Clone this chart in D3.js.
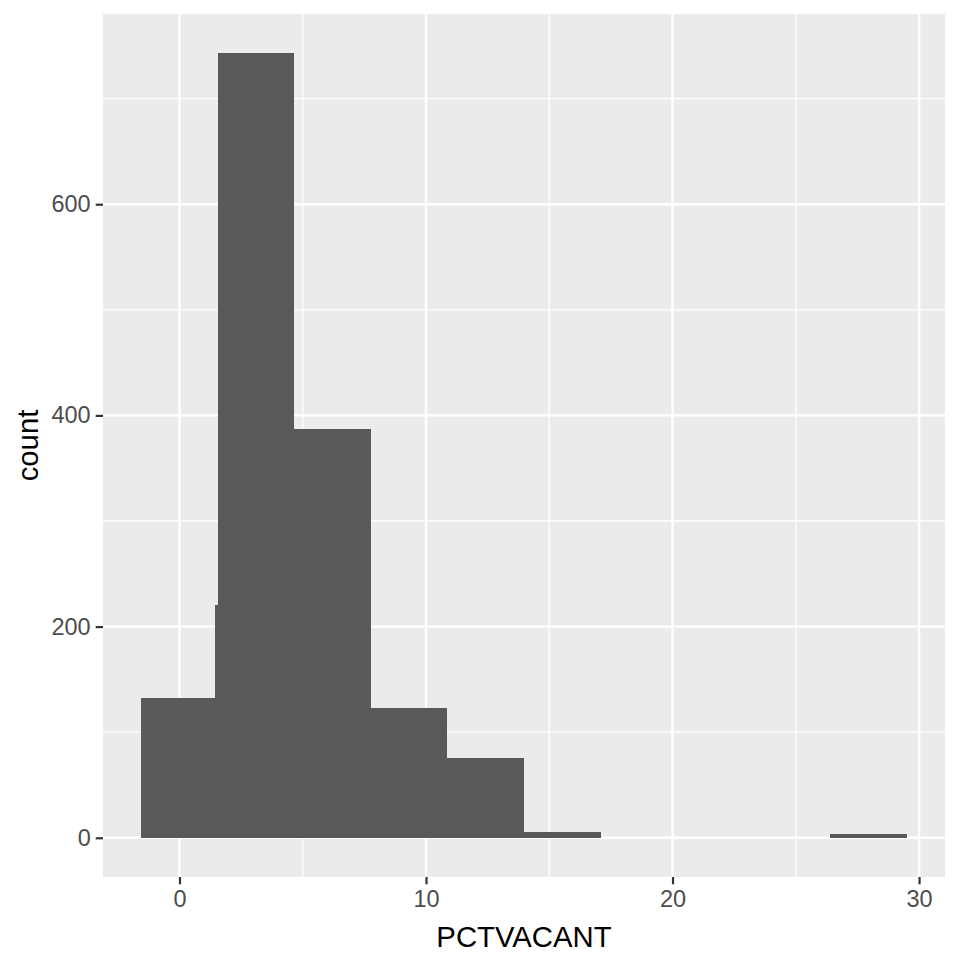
<!DOCTYPE html>
<html>
<head>
<meta charset="utf-8">
<script src="https://cdn.jsdelivr.net/npm/d3@7"></script>
<style>
  body { margin: 0; background: #fff; }
  svg { display: block; font-family: "Liberation Sans", Arial, sans-serif; }
</style>
</head>
<body>
<svg id="chart" width="960" height="960"></svg>
<script>
// histogram bins (PCTVACANT)
const binX0 = [-1.55, 1.55, 4.66, 7.76, 10.87, 13.97, 17.08, 20.18, 23.29, 26.39];
const binX1 = [1.55, 4.66, 7.76, 10.87, 13.97, 17.08, 20.18, 23.29, 26.39, 29.50];
const counts = [132, 743, 387, 123, 76, 5, 0, 0, 0, 4];
// second overlapping bar visible left of the tall bin
const extraX0 = [1.44];
const extraX1 = [4.66];
const extraCounts = [220];

const xTicks = [0, 10, 20, 30];
const xMinor = [5, 15, 25];
const yTicks = [0, 200, 400, 600];
const yMinor = [100, 300, 500, 700];

const margin = { left: 103, right: 15, top: 14, bottom: 83 };
const width = 960, height = 960;

const svg = d3.select('#chart');

let xlo = d3.min(binX0), xhi = d3.max(binX1);
let xpad = (xhi - xlo) * 0.05;
let x = d3.scaleLinear()
  .domain([xlo - xpad, xhi + xpad])
  .range([margin.left, width - margin.right]);

let ymax = d3.max(counts.concat(extraCounts));
let ypad = ymax * 0.05;
let y = d3.scaleLinear()
  .domain([-ypad, ymax + ypad])
  .range([height - margin.bottom, margin.top]);

// panel
svg.append('rect')
  .attr('x', margin.left)
  .attr('y', margin.top)
  .attr('width', width - margin.left - margin.right)
  .attr('height', height - margin.top - margin.bottom)
  .attr('fill', '#EBEBEB');

let grid = svg.append('g');
grid.selectAll('.xminor').data(xMinor).enter().append('line')
  .attr('x1', d => x(d)).attr('x2', d => x(d))
  .attr('y1', margin.top).attr('y2', height - margin.bottom)
  .attr('stroke', '#fff').attr('stroke-width', 1.3);
grid.selectAll('.yminor').data(yMinor).enter().append('line')
  .attr('y1', d => y(d)).attr('y2', d => y(d))
  .attr('x1', margin.left).attr('x2', width - margin.right)
  .attr('stroke', '#fff').attr('stroke-width', 1.3);
grid.selectAll('.xmajor').data(xTicks).enter().append('line')
  .attr('x1', d => x(d)).attr('x2', d => x(d))
  .attr('y1', margin.top).attr('y2', height - margin.bottom)
  .attr('stroke', '#fff').attr('stroke-width', 2.4);
grid.selectAll('.ymajor').data(yTicks).enter().append('line')
  .attr('y1', d => y(d)).attr('y2', d => y(d))
  .attr('x1', margin.left).attr('x2', width - margin.right)
  .attr('stroke', '#fff').attr('stroke-width', 2.4);

// bars
let bins = binX0.map((d, i) => ({ x0: d, x1: binX1[i], n: counts[i] }))
  .concat(extraX0.map((d, i) => ({ x0: d, x1: extraX1[i], n: extraCounts[i] })));

svg.append('g')
  .attr('shape-rendering', 'crispEdges')
  .selectAll('.bar')
  .data(bins.filter(d => d.n > 0))
  .enter().append('rect')
  .attr('class', 'bar')
  .attr('x', d => x(d.x0))
  .attr('width', d => x(d.x1) - x(d.x0))
  .attr('y', d => y(d.n))
  .attr('height', d => y(0) - y(d.n))
  .attr('fill', '#595959');

// axes
let xAxis = svg.append('g')
  .attr('transform', `translate(0, ${height - margin.bottom})`)
  .call(d3.axisBottom(x).tickValues(xTicks).tickSize(7.3).tickPadding(6));
let yAxis = svg.append('g')
  .attr('transform', `translate(${margin.left}, 0)`)
  .call(d3.axisLeft(y).tickValues(yTicks).tickSize(7.3).tickPadding(5));

[xAxis, yAxis].forEach(a => {
  a.select('.domain').remove();
  a.selectAll('line').attr('stroke', '#333333').attr('stroke-width', 2.2);
  a.selectAll('text')
    .attr('fill', '#4D4D4D')
    .style('font-size', '23.5px')
    .style('font-family', '"Liberation Sans", Arial, sans-serif');
});
xAxis.selectAll('text').attr('dy', '0.72em');

// titles
svg.append('text')
  .attr('x', x((xlo + xhi) / 2))
  .attr('y', 947)
  .attr('text-anchor', 'middle')
  .style('font-size', '29.3px')
  .attr('fill', '#000')
  .text('PCTVACANT');

svg.append('text')
  .attr('transform', `translate(38, ${(margin.top + height - margin.bottom) / 2}) rotate(-90)`)
  .attr('text-anchor', 'middle')
  .style('font-size', '29.3px')
  .attr('fill', '#000')
  .text('count');
</script>
</body>
</html>
